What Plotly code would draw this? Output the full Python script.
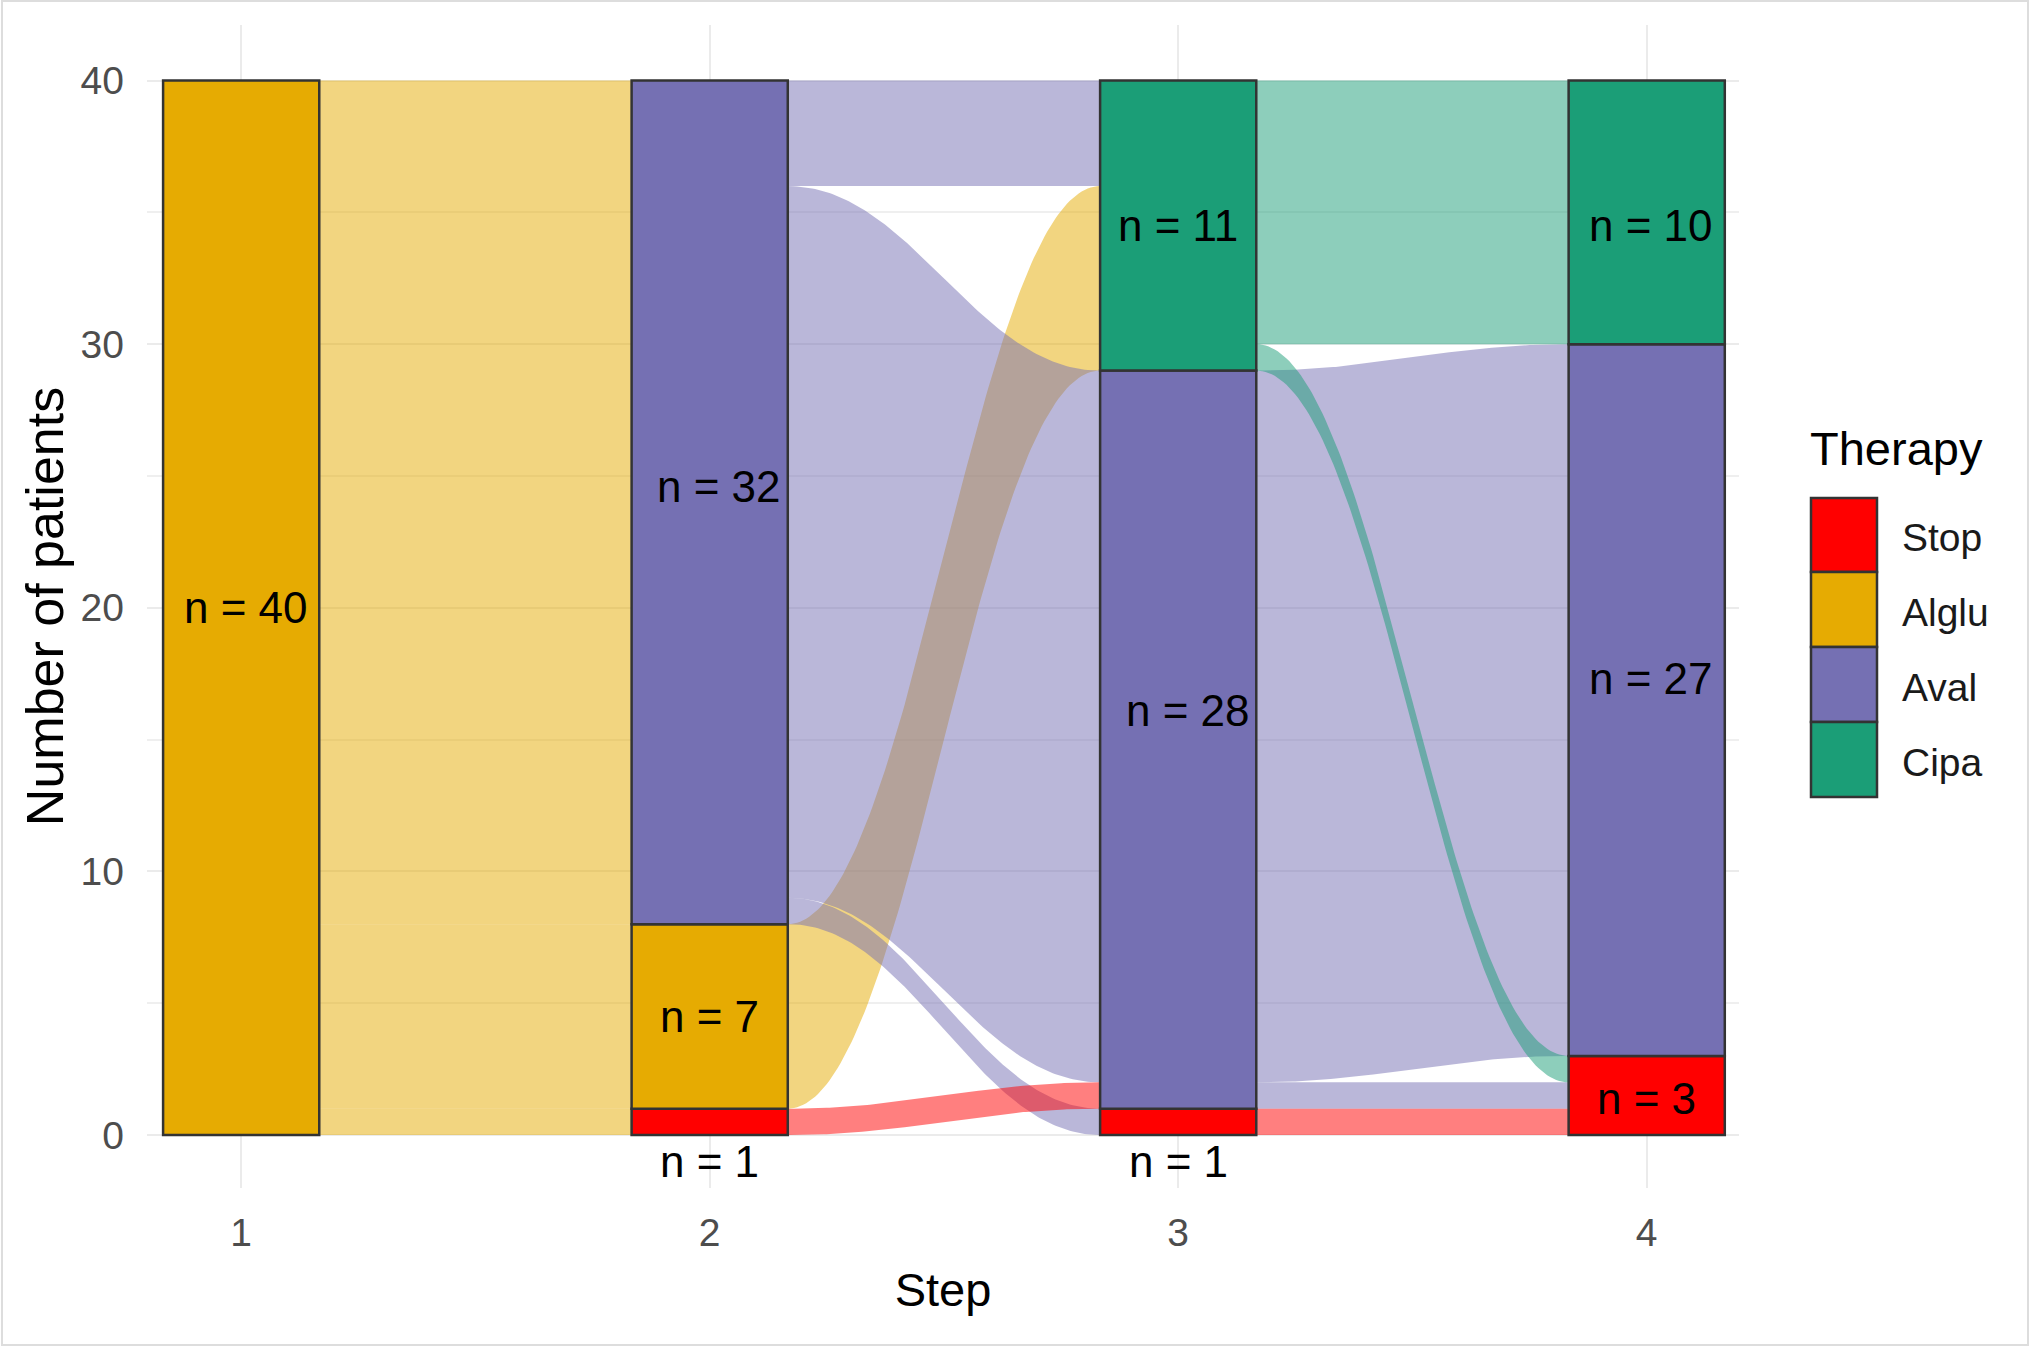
import numpy as np
import plotly.graph_objects as go

# ---------------- data ----------------
steps = [1, 2, 3, 4]
therapies = ["Stop", "Alglu", "Aval", "Cipa"]          # stacking order, bottom -> top
stop_n = [0, 1, 1, 3]
alglu_n = [40, 7, 0, 0]
aval_n = [0, 32, 28, 27]
cipa_n = [0, 0, 11, 10]

# transitions between consecutive steps (from step -> step + 1)
flow_step = [1, 1, 1, 2, 2, 2, 2, 2, 3, 3, 3, 3, 3]
flow_from = ["Alglu", "Alglu", "Alglu", "Stop", "Alglu", "Aval", "Aval", "Aval",
             "Stop", "Aval", "Aval", "Cipa", "Cipa"]
flow_to = ["Stop", "Alglu", "Aval", "Aval", "Cipa", "Stop", "Aval", "Cipa",
           "Stop", "Stop", "Aval", "Stop", "Cipa"]
flow_n = [1, 7, 32, 1, 7, 1, 27, 4, 1, 1, 27, 1, 10]

# ---------------- style ----------------
colors = {"Stop": "#FF0000", "Alglu": "#E6AB02", "Aval": "#7570B3", "Cipa": "#1B9E77"}
FONT = "Liberation Sans, Arial, sans-serif"
W, H = 2030, 1347
ML, MR, MT, MB = 147, 291, 25, 159
BAR_W = 1 / 3


def hex_rgba(h, a):
    h = h.lstrip("#")
    return "rgba(%d,%d,%d,%.2f)" % (int(h[0:2], 16), int(h[2:4], 16), int(h[4:6], 16), a)


def px_x(px):
    return (px - ML) / (W - ML - MR)


def px_y(py):
    return (H - MB - py) / (H - MB - MT)


counts = {"Stop": stop_n, "Alglu": alglu_n, "Aval": aval_n, "Cipa": cipa_n}
order = {t: i for i, t in enumerate(therapies)}

bottoms = {}
for i, s in enumerate(steps):
    b = 0
    for t in therapies:
        bottoms[(s, t)] = b
        b += counts[t][i]

idx = list(range(len(flow_n)))
y_out, y_in = {}, {}
for s in steps:
    for t in therapies:
        b = bottoms[(s, t)]
        for k in sorted([k for k in idx if flow_step[k] == s and flow_from[k] == t],
                        key=lambda k: order[flow_to[k]]):
            y_out[k] = b
            b += flow_n[k]
        b = bottoms[(s, t)]
        for k in sorted([k for k in idx if flow_step[k] + 1 == s and flow_to[k] == t],
                        key=lambda k: order[flow_from[k]]):
            y_in[k] = b
            b += flow_n[k]


def curve(x0, y0, x1, y1, n=120, c=0.4):
    s = np.linspace(0, 1, n)
    cx0 = x0 + c * (x1 - x0)
    cx1 = x1 - c * (x1 - x0)
    bx = (1 - s) ** 3 * x0 + 3 * (1 - s) ** 2 * s * cx0 + 3 * (1 - s) * s ** 2 * cx1 + s ** 3 * x1
    by = (1 - s) ** 3 * y0 + 3 * (1 - s) ** 2 * s * y0 + 3 * (1 - s) * s ** 2 * y1 + s ** 3 * y1
    return bx, by


fig = go.Figure()

draw_rank = {"Alglu": 0, "Aval": 1, "Stop": 2, "Cipa": 3}
for k in sorted(idx, key=lambda k: (draw_rank[flow_from[k]], k)):
    x0 = flow_step[k] + BAR_W / 2
    x1 = flow_step[k] + 1 - BAR_W / 2
    lx, ly = curve(x0, y_out[k], x1, y_in[k])
    ux, uy = curve(x0, y_out[k] + flow_n[k], x1, y_in[k] + flow_n[k])
    xs = np.concatenate([lx, ux[::-1], lx[:1]])
    ys = np.concatenate([ly, uy[::-1], ly[:1]])
    fig.add_trace(go.Scatter(
        x=xs, y=ys, mode="lines", fill="toself",
        fillcolor=hex_rgba(colors[flow_from[k]], 0.5),
        line=dict(width=0, color="rgba(0,0,0,0)"),
        hoverinfo="skip", showlegend=False))

for t in therapies:
    xs = [s for i, s in enumerate(steps) if counts[t][i] > 0]
    ys = [counts[t][i] for i, s in enumerate(steps) if counts[t][i] > 0]
    bs = [bottoms[(s, t)] for i, s in enumerate(steps) if counts[t][i] > 0]
    fig.add_trace(go.Bar(
        x=xs, y=ys, base=bs, width=BAR_W, name=t,
        marker=dict(color=colors[t], line=dict(color="#333333", width=2.5)),
        zorder=10, showlegend=False, hoverinfo="skip"))

# stratum labels
nudge = {(2, "Aval"): (0.02, 0.6), (3, "Aval"): (0.02, 1.1), (4, "Aval"): (0.01, 0.8),
         (4, "Cipa"): (0.01, -0.5), (4, "Stop"): (0.0, -0.1), (1, "Alglu"): (0.01, 0.0)}
annotations = []
for i, s in enumerate(steps):
    for t in therapies:
        c = counts[t][i]
        if c <= 0:
            continue
        yc = bottoms[(s, t)] + c / 2
        if c == 1:
            yc = -1.0
        dx, dy = nudge.get((s, t), (0.0, 0.0))
        annotations.append(dict(
            x=s + dx, y=yc + dy, xref="x", yref="y", text="n = %d" % c,
            showarrow=False, xanchor="center", yanchor="middle",
            font=dict(family=FONT, size=44, color="#000000")))

# legend (drawn manually to get large square keys)
shapes = []
key_x0, key_x1 = 1811, 1877
key_tops = [498, 572, 647, 722, 797]
for j, t in enumerate(therapies):
    shapes.append(dict(type="rect", xref="paper", yref="paper",
                       x0=px_x(key_x0), x1=px_x(key_x1),
                       y0=px_y(key_tops[j + 1]), y1=px_y(key_tops[j]),
                       fillcolor=colors[t], line=dict(color="#333333", width=2.5)))
    annotations.append(dict(x=px_x(1900), y=px_y((key_tops[j] + key_tops[j + 1]) / 2 + 3),
                            xref="paper", yref="paper", text=t, showarrow=False,
                            xanchor="left", yanchor="middle",
                            font=dict(family=FONT, size=39, color="#1a1a1a")))
annotations.append(dict(x=px_x(1808), y=px_y(448), xref="paper", yref="paper",
                        text="Therapy", showarrow=False, xanchor="left", yanchor="middle",
                        font=dict(family=FONT, size=47, color="#000000")))

# outer light frame
shapes.append(dict(type="rect", xref="paper", yref="paper", layer="below",
                   x0=px_x(2), x1=px_x(2028), y0=px_y(1345), y1=px_y(1),
                   line=dict(color="#DDDDDD", width=2), fillcolor="rgba(0,0,0,0)"))

fig.update_layout(
    width=W, height=H,
    margin=dict(l=ML, r=MR, t=MT, b=MB),
    paper_bgcolor="white", plot_bgcolor="white",
    barmode="overlay", showlegend=False,
    shapes=shapes, annotations=annotations,
    font=dict(family=FONT),
)
fig.update_xaxes(
    range=[0.799, 4.197], tickvals=steps, ticktext=[str(s) for s in steps],
    showgrid=True, gridcolor="#EBEBEB", gridwidth=2, zeroline=False,
    showline=False, ticks="", ticklabelstandoff=18,
    tickfont=dict(family=FONT, size=39, color="#4D4D4D"),
    title=dict(text="Step", font=dict(family=FONT, size=47, color="#000000"), standoff=20),
)
fig.update_yaxes(
    range=[-2.01, 42.11], tickvals=[0, 10, 20, 30, 40],
    showgrid=True, gridcolor="#EBEBEB", gridwidth=2, zeroline=False,
    showline=False, ticks="", ticklabelstandoff=22,
    minor=dict(tickvals=[5, 15, 25, 35], showgrid=True, gridcolor="#EFEFEF", gridwidth=1.5),
    tickfont=dict(family=FONT, size=39, color="#4D4D4D"),
    title=dict(text="Number of patients", font=dict(family=FONT, size=52, color="#000000"), standoff=0),
)

fig.write_html("out.html")
